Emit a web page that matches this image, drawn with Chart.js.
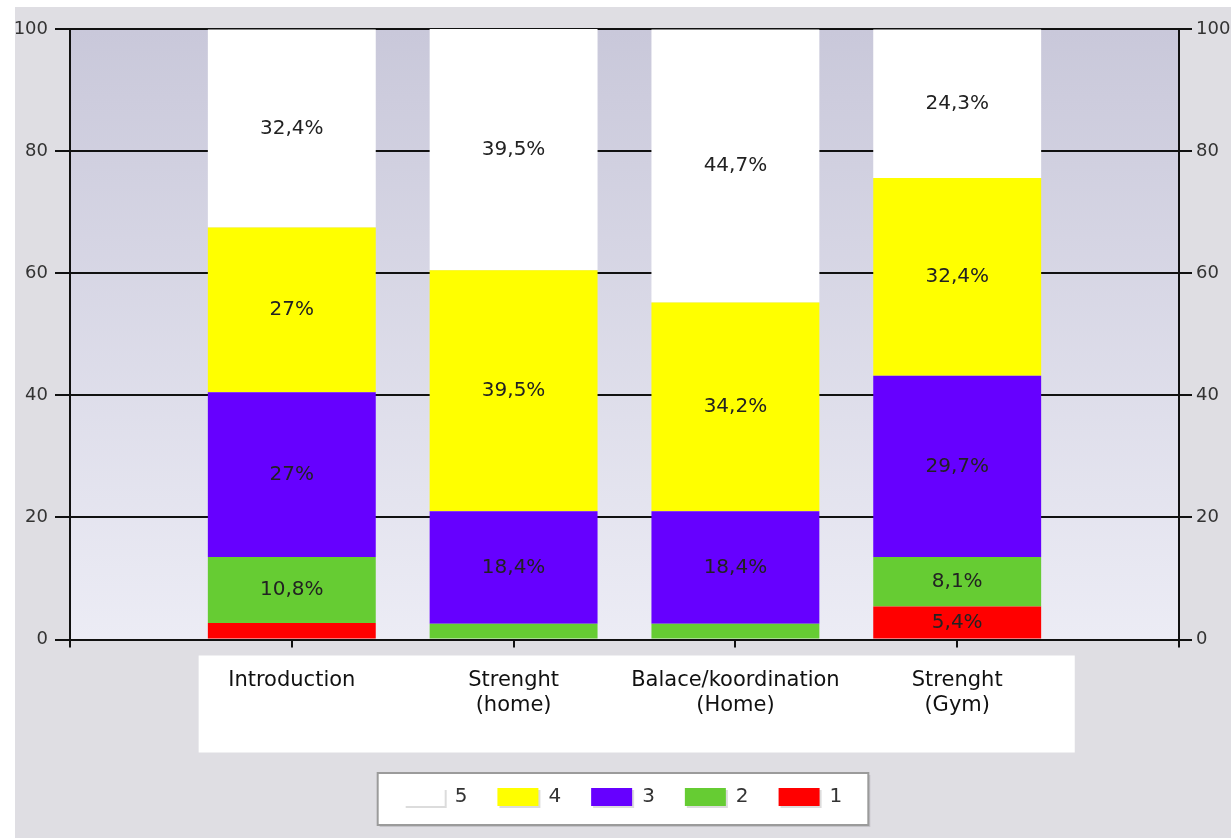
<!DOCTYPE html>
<html>
<head>
<meta charset="utf-8">
<script src="https://cdn.jsdelivr.net/npm/chart.js@4.4.1/dist/chart.umd.min.js"></script>
<style>
  body { margin: 0; background: #fff; }
  #wrap { position: absolute; left: 15px; top: 7px; width: 1216px; height: 831px; background: #dfdee3; }
</style>
</head>
<body>
<div id="wrap"><canvas id="ratingChart"></canvas></div>
<script>
// share of answers per grade (percent), one entry per exercise block
const categories = [['Introduction'], ['Strenght', '(home)'], ['Balace/koordination', '(Home)'], ['Strenght', '(Gym)']];
const grade1 = [2.7, 0, 0, 5.4];
const grade2 = [10.8, 2.6, 2.6, 8.1];
const grade3 = [27, 18.4, 18.4, 29.7];
const grade4 = [27, 39.5, 34.2, 32.4];
const grade5 = [32.4, 39.5, 44.7, 24.3];
const yTicks = [0, 20, 40, 60, 80, 100];

Chart.defaults.font.family = '"DejaVu Sans", Verdana, sans-serif';

// empty slot on each side so the bars sit at 1..4 on a 0..5 axis
const pad = arr => [null, ...arr, null];

const backdrop = {
  id: 'backdrop',
  beforeDraw(chart) {
    const { ctx, chartArea: a, scales: { x } } = chart;
    ctx.save();
    const g = ctx.createLinearGradient(0, a.top, 0, a.bottom);
    g.addColorStop(0, '#c9c8da');
    g.addColorStop(1, '#ececf5');
    ctx.fillStyle = g;
    ctx.fillRect(a.left, a.top, a.width, a.height);

    // white panel under the category names
    const step = x.getPixelForValue(2) - x.getPixelForValue(1);
    const bx0 = x.getPixelForValue(1) - step * 0.42;
    const bx1 = x.getPixelForValue(4) + step * 0.53;
    ctx.fillStyle = '#fff';
    ctx.fillRect(bx0, a.bottom + 16, bx1 - bx0, 97);

    // framed legend
    const hb = chart.legend.legendHitBoxes;
    if (hb && hb.length) {
      const first = hb[0], last = hb[hb.length - 1];
      const l = first.left - 26, r = last.left + last.width + 26;
      const t = first.top - 14, b = first.top + first.height + 18;
      ctx.fillStyle = '#c4c3c8';
      ctx.fillRect(l + 2, t + 2, r - l, b - t);
      ctx.fillStyle = '#fff';
      ctx.fillRect(l, t, r - l, b - t);
      ctx.strokeStyle = '#9b9b9b';
      ctx.lineWidth = 2;
      ctx.strokeRect(l, t, r - l, b - t);
      // soft shadow under each swatch
      const bw = chart.options.plugins.legend.labels.boxWidth;
      const bh = chart.options.plugins.legend.labels.boxHeight;
      ctx.fillStyle = '#dcdcdc';
      hb.forEach(h => {
        const by = h.top + (h.height - bh) / 2;
        ctx.fillRect(h.left + 2, by + 2, bw, bh);
      });
    }
    ctx.restore();
  }
};

const valueLabels = {
  id: 'valueLabels',
  afterDatasetsDraw(chart) {
    const { ctx } = chart;
    ctx.save();
    ctx.font = '20px "DejaVu Sans", Verdana, sans-serif';
    ctx.fillStyle = '#222';
    ctx.textAlign = 'center';
    ctx.textBaseline = 'middle';
    chart.data.datasets.forEach((ds, i) => {
      chart.getDatasetMeta(i).data.forEach((bar, j) => {
        const v = ds.data[j];
        if (v == null || v < 3) return;
        const { x, y, base } = bar.getProps(['x', 'y', 'base'], true);
        ctx.fillText(String(v).replace('.', ',') + '%', x, (y + base) / 2);
      });
    });
    ctx.restore();
  }
};

const yAxisTicks = { stepSize: yTicks[1] - yTicks[0], color: '#333', font: { size: 18 } };

new Chart(document.getElementById('ratingChart'), {
  type: 'bar',
  data: {
    labels: ['', ...categories, ''],
    datasets: [
      { label: '1', data: pad(grade1), backgroundColor: '#ff0000' },
      { label: '2', data: pad(grade2), backgroundColor: '#66cc33' },
      { label: '3', data: pad(grade3), backgroundColor: '#6600ff' },
      { label: '4', data: pad(grade4), backgroundColor: '#ffff00' },
      { label: '5', data: pad(grade5), backgroundColor: '#ffffff' }
    ]
  },
  options: {
    responsive: true,
    maintainAspectRatio: false,
    animation: false,
    layout: { padding: { top: 22, bottom: 21, left: 0, right: 0 } },
    datasets: { bar: { barPercentage: 0.757, categoryPercentage: 1, borderWidth: 0 } },
    plugins: {
      legend: {
        position: 'bottom',
        reverse: true,
        labels: { boxWidth: 41, boxHeight: 18, padding: 30, color: '#333', font: { size: 20 } }
      },
      tooltip: { enabled: false }
    },
    scales: {
      x: {
        stacked: true,
        offset: false,
        grid: { offset: false, drawOnChartArea: false, color: '#111', lineWidth: 2, tickLength: 8 },
        border: { color: '#111', width: 2 },
        ticks: { autoSkip: false, maxRotation: 0, padding: 20, color: '#111', font: { size: 21 } },
        afterFit: s => { s.height = 117.5; }
      },
      y: {
        stacked: true,
        position: 'left',
        min: yTicks[0],
        max: yTicks[yTicks.length - 1],
        ticks: { ...yAxisTicks, padding: 7 },
        grid: { color: '#111', lineWidth: 2, tickLength: 15 },
        border: { color: '#111', width: 2 },
        afterFit: s => { s.width = 55; }
      },
      y2: {
        position: 'right',
        min: yTicks[0],
        max: yTicks[yTicks.length - 1],
        ticks: { ...yAxisTicks, padding: 4 },
        grid: { drawOnChartArea: false, color: '#111', lineWidth: 2, tickLength: 13 },
        border: { color: '#111', width: 2 },
        afterFit: s => { s.width = 52; }
      }
    }
  },
  plugins: [backdrop, valueLabels]
});
</script>
</body>
</html>
